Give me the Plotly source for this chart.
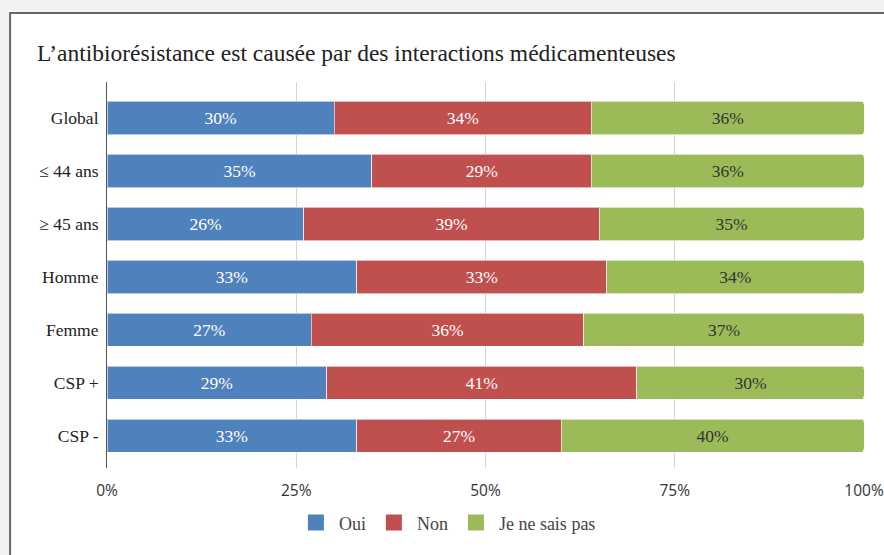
import plotly.graph_objects as go

categories = ['Global', '≤ 44 ans', '≥ 45 ans', 'Homme', 'Femme', 'CSP +', 'CSP -']
oui = [30, 35, 26, 33, 27, 29, 33]
non = [34, 29, 39, 33, 36, 41, 27]
nsp = [36, 36, 35, 34, 37, 30, 40]
x_ticks = [0, 25, 50, 75, 100]
x_labels = ['0%', '25%', '50%', '75%', '100%']

serif = 'Liberation Serif, Times New Roman, serif'
sans = 'Open Sans, Arial, sans-serif'

series = [
    ('Oui', oui, '#4f81bd', 'white'),
    ('Non', non, '#c0504d', 'white'),
    ('Je ne sais pas', nsp, '#9bbb59', '#333333'),
]

fig = go.Figure()
for name, vals, color, tcolor in series:
    fig.add_trace(go.Bar(
        y=categories,
        x=vals,
        name=name,
        orientation='h',
        marker=dict(color=color, line=dict(color='rgba(255,255,255,0.6)', width=1)),
        text=[f'{v}%' for v in vals],
        textposition='inside',
        insidetextanchor='middle',
        textfont=dict(family=serif, size=17.5, color=tcolor),
        hoverinfo='skip',
        showlegend=False,
    ))

# bigger square legend keys
for name, vals, color, tcolor in series:
    fig.add_trace(go.Scatter(
        x=[None], y=[None], mode='markers', name=name,
        marker=dict(symbol='square', size=17, color=color),
    ))

# white panel with dark border, page is light grey
fig.add_shape(type='rect', xref='paper', yref='paper',
              x0=-0.128, x1=1.2, y0=-0.4, y1=1.179,
              fillcolor='white', line=dict(color='#666666', width=2),
              layer='below')

fig.update_layout(
    width=884, height=555,
    barmode='stack',
    bargap=0.37,
    barcornerradius=3,
    paper_bgcolor='#f2f2f2',
    plot_bgcolor='white',
    margin=dict(l=107, r=20, t=82, b=87),
    title=dict(text='L’antibiorésistance est causée par des interactions médicamenteuses',
               font=dict(family=serif, size=23.5, color='#222222'),
               x=37 / 884, xanchor='left', xref='container',
               y=1 - 53 / 555, yanchor='middle', yref='container'),
    legend=dict(orientation='h', x=0.449, xanchor='center', y=-0.142, yanchor='middle',
                font=dict(family=serif, size=18, color='#444444'),
                itemwidth=36,
                bgcolor='rgba(0,0,0,0)', traceorder='normal'),
    showlegend=True,
)

fig.update_xaxes(range=[0, 100], tickvals=x_ticks, ticktext=x_labels,
                 showgrid=True, gridcolor='#d4d4d4', gridwidth=1,
                 zeroline=False, showline=False, automargin=False,
                 tickfont=dict(family=sans, size=15.5, color='#333333'),
                 ticks='outside', ticklen=8, tickcolor='rgba(0,0,0,0)',
                 fixedrange=True)
fig.update_yaxes(range=[6.61, -0.68], showgrid=False, automargin=False,
                 showline=True, linecolor='#555555', linewidth=1,
                 tickfont=dict(family=serif, size=17.5, color='#222222'),
                 ticks='outside', ticklen=4, tickcolor='rgba(0,0,0,0)',
                 fixedrange=True)

fig.write_html('out.html', config={'displayModeBar': False},
               post_script="document.body.style.margin='0';")
